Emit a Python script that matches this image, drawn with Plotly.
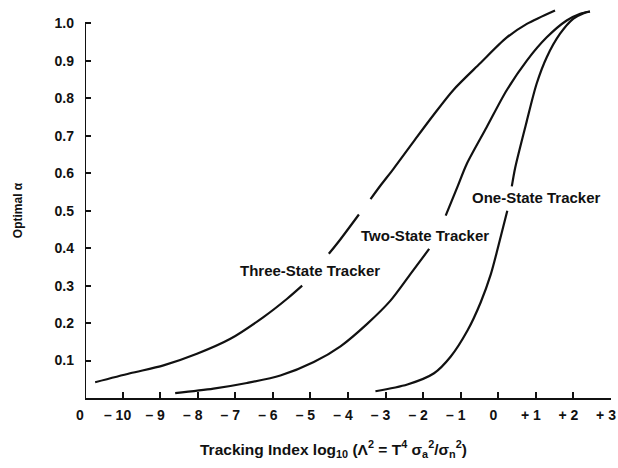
import plotly.graph_objects as go

# ---- data ----
three_x = [-10.73, -9.8, -8.91, -8.02, -7.13, -6.25, -5.62, -5.22, None,
           -4.51, -4.2, -3.71, None, -3.4, -3.13, -2.79, -2.26, -1.73,
           -1.2, -0.49, 0.22, 0.76, 1.51]
three_y = [0.042, 0.066, 0.087, 0.118, 0.158, 0.216, 0.265, 0.30, None,
           0.385, 0.424, 0.49, None, 0.531, 0.568, 0.612, 0.684, 0.755,
           0.822, 0.893, 0.962, 0.999, 1.035]

two_x = [-8.6, -7.58, -6.69, -5.8, -4.91, -4.2, -3.49, -2.87, -2.33, -1.84, None,
         -1.4, -1.09, -0.84, -0.31, 0.22, 0.76, 1.29, 1.82, 2.18, 2.44]
two_y = [0.013, 0.025, 0.04, 0.06, 0.096, 0.138, 0.198, 0.26, 0.332, 0.398, None,
         0.487, 0.563, 0.625, 0.723, 0.821, 0.901, 0.963, 1.008, 1.026, 1.032]

one_x = [-3.27, -2.42, -1.71, -1.27, -0.82, -0.47, -0.2, 0.0, 0.24, None,
         0.36, 0.45, 0.76, 1.02, 1.29, 1.64, 2.0, 2.26, 2.44]
one_y = [0.018, 0.036, 0.066, 0.11, 0.18, 0.255, 0.33, 0.405, 0.50, None,
         0.565, 0.615, 0.74, 0.839, 0.91, 0.972, 1.013, 1.027, 1.032]

x_tickvals = [-11, -10, -9, -8, -7, -6, -5, -4, -3, -2, -1, 0, 1, 2, 3]
x_ticktext = ["0", "– 10", "– 9", "– 8", "– 7", "– 6", "– 5", "– 4", "– 3",
              "– 2", "– 1", "0", "+ 1", "+ 2", "+ 3"]
y_tickvals = [0.1, 0.2, 0.3, 0.4, 0.5, 0.6, 0.7, 0.8, 0.9, 1.0]
y_ticktext = ["0.1", "0.2", "0.3", "0.4", "0.5", "0.6", "0.7", "0.8", "0.9", "1.0"]

curve_labels = ["Three-State Tracker", "Two-State Tracker", "One-State Tracker"]
label_x = [-5.01, -1.95, 1.02]
label_y = [0.34, 0.434, 0.535]

FONT = "Liberation Sans"
INK = "#111111"

fig = go.Figure()
for xs, ys, name in [(three_x, three_y, curve_labels[0]),
                     (two_x, two_y, curve_labels[1]),
                     (one_x, one_y, curve_labels[2])]:
    fig.add_trace(go.Scatter(x=xs, y=ys, mode="lines", name=name,
                             line=dict(color=INK, width=2.2, shape="spline", smoothing=0.8),
                             connectgaps=False, showlegend=False))

for t, lx, ly in zip(curve_labels, label_x, label_y):
    fig.add_annotation(x=lx, y=ly, text=t, showarrow=False,
                       font=dict(family=FONT, size=15, color=INK, weight="bold"),
                       xanchor="center", yanchor="middle")

# y axis line only up to 1.0
fig.add_shape(type="line", xref="x", yref="y", x0=-11, x1=-11, y0=0, y1=1.0,
              line=dict(color=INK, width=2))

fig.add_annotation(xref="paper", yref="paper", x=0.4715, y=-0.129,
                   text="Tracking Index log<sub>10</sub> (Λ<sup>2</sup> = T<sup>4</sup> σ<sub>a</sub><sup>2</sup>/σ<sub>n</sub><sup>2</sup>)",
                   showarrow=False, xanchor="center", yanchor="middle",
                   font=dict(family=FONT, size=15.5, color=INK, weight="bold"))
fig.add_annotation(xref="paper", yref="paper", x=-0.127, y=0.476,
                   text="Optimal α", textangle=-90, showarrow=False,
                   xanchor="center", yanchor="middle",
                   font=dict(family=FONT, size=12, color=INK, weight="bold"))

fig.update_layout(
    width=618, height=468,
    margin=dict(l=85, r=7, t=3, b=70),
    paper_bgcolor="white", plot_bgcolor="white",
    font=dict(family=FONT, color=INK),
    xaxis=dict(range=[-11, 3], tickmode="array", tickvals=x_tickvals, ticktext=x_ticktext,
               ticks="inside", ticklen=6, tickwidth=1.5, tickcolor=INK,
               showline=True, linecolor=INK, linewidth=2, showgrid=False, zeroline=False,
               tickfont=dict(family=FONT, size=14, color=INK, weight="bold"),
               ticklabelstandoff=3, ticklabelshift=-5),
    yaxis=dict(range=[0, 1.0547], tickmode="array", tickvals=y_tickvals, ticktext=y_ticktext,
               ticks="inside", ticklen=6, tickwidth=1.5, tickcolor=INK,
               showline=False, showgrid=False, zeroline=False,
               tickfont=dict(family=FONT, size=14, color=INK, weight="bold"),
               ticklabelstandoff=10),
)

fig.write_html("out.html")
